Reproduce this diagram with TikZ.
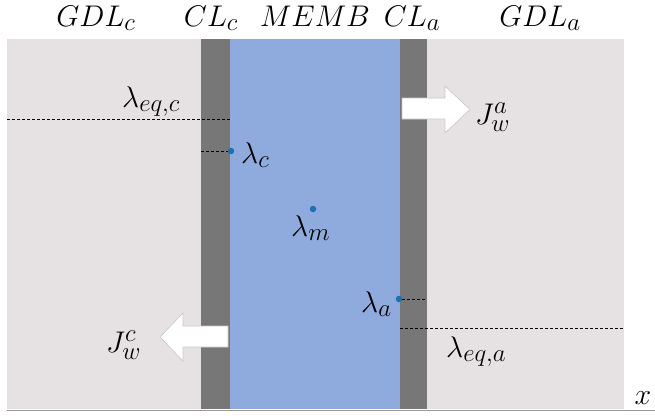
\documentclass[tikz,border=0pt]{standalone}
\usetikzlibrary{calc}
\definecolor{gdl}{HTML}{E6E2E3}
\definecolor{cl}{HTML}{777777}
\definecolor{memb}{HTML}{8FAADC}
\definecolor{dotblue}{HTML}{1F6FB5}
\definecolor{arrowedge}{HTML}{C8C8C8}
\definecolor{axisgray}{HTML}{9A9A9A}
\tikzset{
  lbl/.style={inner sep=0pt, font=\fontsize{24.88}{30}\selectfont, scale=1.2, transform shape},
  wdot/.style={circle, fill=dotblue, inner sep=0pt, minimum size=6.5pt},
  eqline/.style={draw=black, line width=0.7pt, dash pattern=on 3pt off 2pt},
  blockarrow/.style={fill=white, draw=arrowedge, line width=0.6pt, line join=miter},
}
\begin{document}
\begin{tikzpicture}[x=1pt,y=-1pt]
\useasboundingbox (0,0) rectangle (655,418);
% layers
\fill[gdl] (7,39) rectangle (624,409);
\fill[cl] (201,39) rectangle (230,409);
\fill[memb] (230,39) rectangle (400,409);
\fill[cl] (400,39) rectangle (427,409);
% axis
\coordinate (ax0) at (7,410);
\coordinate (ax1) at (655,410);
\draw[axisgray, line width=1pt] (ax0) -- (ax1);
\node[lbl, anchor=base] (xl) at (643,404) {$x$};
% titles
\node[lbl, anchor=base] (tgdlc) at (96,26) {$GDL_c$};
\node[lbl, anchor=base] (tclc) at (211,26) {$CL_c$};
\node[lbl, anchor=base] (tmemb) at (315,26) {$MEMB$};
\node[lbl, anchor=base] (tcla) at (412,26) {$CL_a$};
\node[lbl, anchor=base] (tgdla) at (540,26) {$GDL_a$};
% equilibrium lines
\coordinate (eqc0) at (7,119);
\coordinate (eqc1) at (230,119);
\draw[eqline] (eqc0) -- (eqc1);
\coordinate (eqa0) at (400,328);
\coordinate (eqa1) at (624,328);
\draw[eqline] (eqa0) -- (eqa1);
\node[lbl, anchor=base west] (leqc) at (122,107) {$\lambda_{eq,c}$};
\node[lbl, anchor=base west] (leqa) at (446,357) {$\lambda_{eq,a}$};
% dots
\node[wdot] (dc) at (231,151) {};
\node[wdot] (dm) at (313,209) {};
\node[wdot] (da) at (399,299) {};
\coordinate (clc) at (201,151);
\coordinate (cla) at (427,299);
\draw[eqline] (clc) -- (dc);
\draw[eqline] (da) -- (cla);
\node[lbl, anchor=base west] (lc) at (241,163) {$\lambda_c$};
\node[lbl, anchor=base west] (lm) at (291,236) {$\lambda_m$};
\node[lbl, anchor=base west] (la) at (361,312) {$\lambda_a$};
% flux arrows
\draw[blockarrow] (402,98) -- (445,98) -- (445,86) -- (470,109.5) -- (445,133) -- (445,119) -- (402,119) -- cycle;
\draw[blockarrow] (228,326) -- (183,326) -- (183,313) -- (160,337) -- (183,361) -- (183,347) -- (228,347) -- cycle;
\node[lbl, anchor=base west] (jwa) at (475,124) {$J_w^a$};
\node[lbl, anchor=base west] (jwc) at (106,352) {$J_w^c$};
\end{tikzpicture}
\end{document}
